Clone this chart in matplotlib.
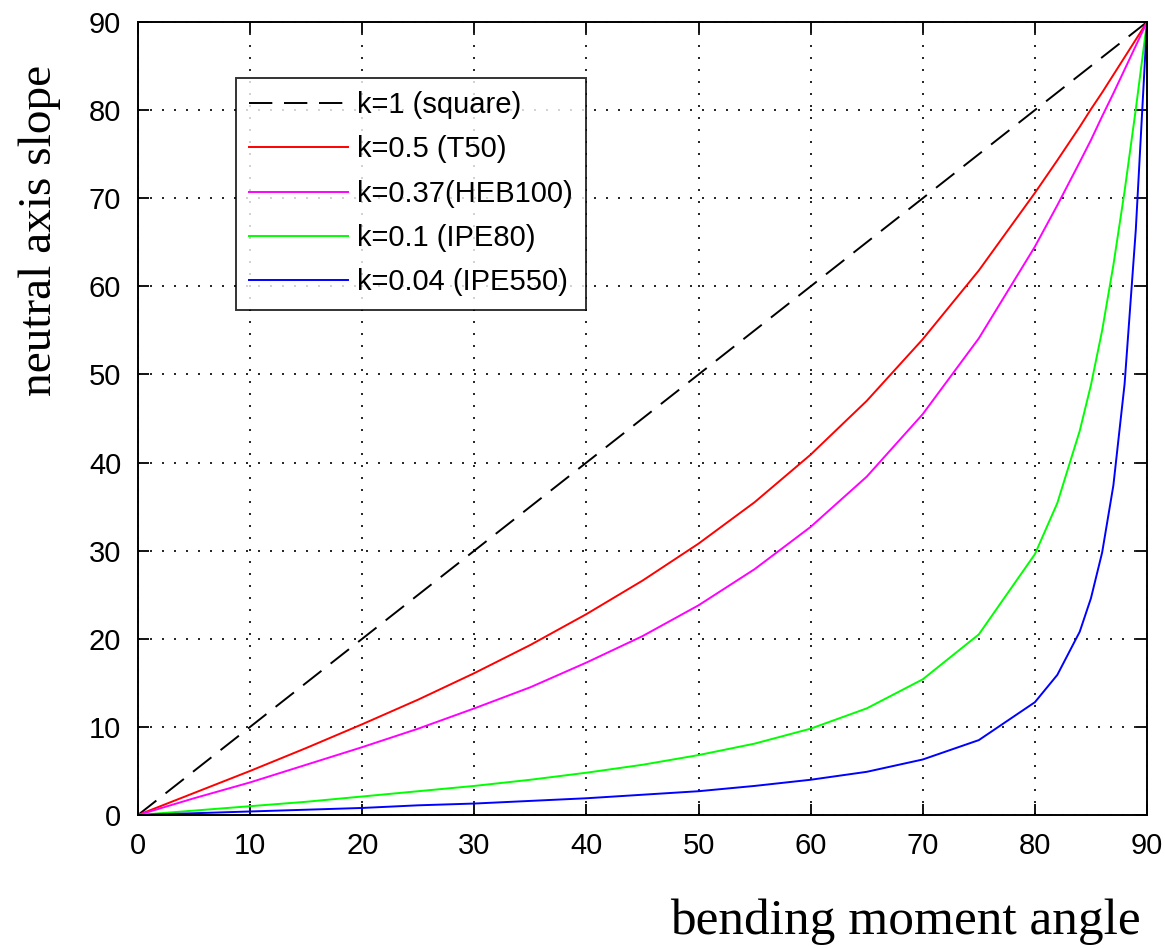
import matplotlib.pyplot as plt

# values (degrees)
angle = [0, 5, 10, 15, 20, 25, 30, 35, 40, 45, 50, 55, 60, 65, 70, 75,
         80, 82, 84, 85, 86, 87, 88, 89, 90]
k1 = [0, 5, 10, 15, 20, 25, 30, 35, 40, 45, 50, 55, 60, 65, 70, 75,
      80, 82, 84, 85, 86, 87, 88, 89, 90]
k05 = [0, 2.5, 5.0, 7.6, 10.3, 13.1, 16.1, 19.3, 22.8, 26.6, 30.8, 35.5, 40.9,
       47.0, 54.0, 61.8, 70.6, 74.3, 78.1, 80.1, 82.0, 84.0, 86.0, 88.0, 90]
k037 = [0, 1.9, 3.7, 5.7, 7.7, 9.8, 12.1, 14.5, 17.3, 20.3, 23.8, 27.9, 32.7,
        38.4, 45.5, 54.1, 64.5, 69.2, 74.1, 76.6, 79.3, 81.9, 84.6, 87.3, 90]
k01 = [0, 0.5, 1.0, 1.5, 2.1, 2.7, 3.3, 4.0, 4.8, 5.7, 6.8, 8.1, 9.8,
       12.1, 15.4, 20.5, 29.6, 35.4, 43.6, 48.8, 55.0, 62.4, 70.8, 80.1, 90]
k004 = [0, 0.2, 0.4, 0.6, 0.8, 1.1, 1.3, 1.6, 1.9, 2.3, 2.7, 3.3, 4.0,
        4.9, 6.3, 8.5, 12.8, 15.9, 20.8, 24.6, 29.8, 37.4, 48.9, 66.4, 90]

labels = ["k=1 (square)", "k=0.5 (T50)", "k=0.37(HEB100)",
          "k=0.1 (IPE80)", "k=0.04 (IPE550)"]
ticks = [0, 10, 20, 30, 40, 50, 60, 70, 80, 90]

plt.rcParams['font.family'] = ['Liberation Sans', 'DejaVu Sans']

fig = plt.figure(figsize=(11.65, 9.48), dpi=100)
ax = fig.add_axes([138 / 1165, 1 - 815 / 948, (1147 - 138) / 1165, (815 - 22) / 948])

lw = 1.4
ax.plot(angle, k1, color='black', lw=lw, dashes=(12, 6), label=labels[0])
ax.plot(angle, k05, color='#ff0000', lw=lw, label=labels[1])
ax.plot(angle, k037, color='#ff00ff', lw=lw, label=labels[2])
ax.plot(angle, k01, color='#00ff00', lw=lw, label=labels[3])
ax.plot(angle, k004, color='#0000ff', lw=lw, label=labels[4])

ax.set_xlim(0, 90)
ax.set_ylim(0, 90)
ax.set_xticks(ticks)
ax.set_yticks(ticks)
ax.grid(True, color='black', linestyle=(0, (1.2, 6)), linewidth=1.2)
ax.tick_params(direction='in', length=8, width=1.3, labelsize=21,
               top=True, right=True, pad=12)
for s in ax.spines.values():
    s.set_linewidth(1.4)

leg = ax.legend(loc='upper left', bbox_to_anchor=(236 / 1165, 1 - 78 / 948),
                bbox_transform=fig.transFigure, fontsize=21, frameon=True,
                fancybox=False, edgecolor='black', handlelength=3.4,
                labelspacing=0.56, handletextpad=0.3, borderpad=0.45,
                borderaxespad=0)
leg.get_frame().set_linewidth(1.4)

fig.text(40 / 1165, 1 - 230 / 948, "neutral axis slope", rotation=90,
         ha='center', va='center', fontsize=34, family='Liberation Serif')
fig.text(905 / 1165, 1 - 922 / 948, "bending moment angle",
         ha='center', va='center', fontsize=37, family='Liberation Serif')

fig.savefig("out.png", dpi=100)
